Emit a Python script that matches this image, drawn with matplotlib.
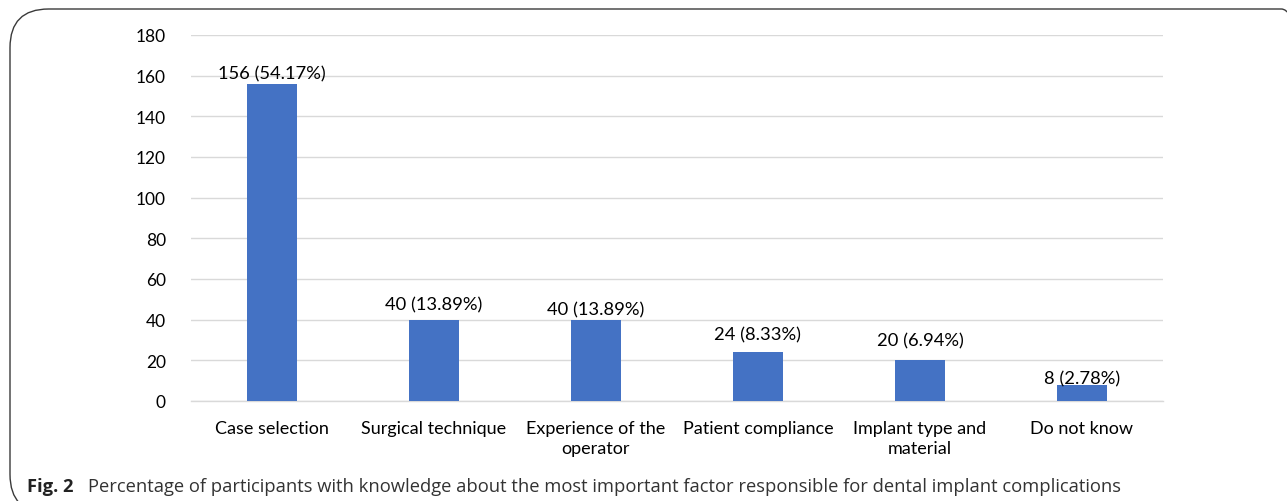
import matplotlib
matplotlib.use("Agg")
import matplotlib.pyplot as plt
from matplotlib.patches import FancyBboxPatch

categories = ["Case selection", "Surgical technique", "Experience of the\noperator",
              "Patient compliance", "Implant type and\nmaterial", "Do not know"]
counts = [156, 40, 40, 24, 20, 8]
percents = ["54.17%", "13.89%", "13.89%", "8.33%", "6.94%", "2.78%"]
yticks = [0, 20, 40, 60, 80, 100, 120, 140, 160, 180]

# styling: vertical gap (px) between each bar top and its label, as placed in the original
label_gap_px = [3, 8, 3, 10, 13, -1]

W, H = 1287, 502
fig = plt.figure(figsize=(W / 100, H / 100), dpi=100)
fig.patch.set_facecolor("white")

# rounded frame (bottom and right edges fall outside the image)
frame = FancyBboxPatch((10 / W, -12 / H), (1320 - 10) / W, (H - 10 + 12) / H,
                       boxstyle="round,pad=0,rounding_size=0.03",
                       transform=fig.transFigure, fill=False,
                       edgecolor="#3a3a3a", linewidth=1.0, mutation_aspect=W / H,
                       clip_on=False)
fig.patches.append(frame)

ax = fig.add_axes([191 / W, (H - 402) / H, (1163 - 191) / W, (402 - 36) / H])
x = list(range(len(categories)))
ax.bar(x, counts, width=0.31, color="#4472C4", zorder=3)
ax.set_xlim(-0.5, len(categories) - 0.5)
ax.set_ylim(0, 180)
ax.set_yticks(yticks)
ax.set_xticks(x)
ax.set_xticklabels(categories)
ax.yaxis.grid(True, color="#d9d9d9", linewidth=1.0, zorder=0)
for s in ["top", "right", "left"]:
    ax.spines[s].set_visible(False)
ax.spines["bottom"].set_color("#d9d9d9")
ax.spines["bottom"].set_linewidth(1.0)
ax.tick_params(axis="y", length=0, labelsize=12.5, colors="#000000", pad=18)
ax.tick_params(axis="x", length=0, labelsize=13, colors="#000000", pad=14)
for lab in ax.get_xticklabels() + ax.get_yticklabels():
    lab.set_fontfamily("Lato")
for lab in ax.get_xticklabels():
    lab.set_linespacing(1.3)

for xi, c, p, g in zip(x, counts, percents, label_gap_px):
    ax.annotate(f"{c} ({p})", (xi, c), xytext=(0, g * 0.72 - 0.5), textcoords="offset points",
                ha="center", va="bottom", fontsize=13.2, family="Lato", zorder=4)

fig.text(27 / W, 1 - 487 / H, "Fig. 2", fontsize=13.2, fontweight="bold",
         family="Open Sans", va="center", ha="left", color="#222222")
fig.text(88 / W, 1 - 487 / H,
         "Percentage of participants with knowledge about the most important factor responsible for dental implant complications",
         fontsize=13.2, family="Open Sans", va="center", ha="left", color="#333333")

fig.savefig("out.png", dpi=100, facecolor="white")
